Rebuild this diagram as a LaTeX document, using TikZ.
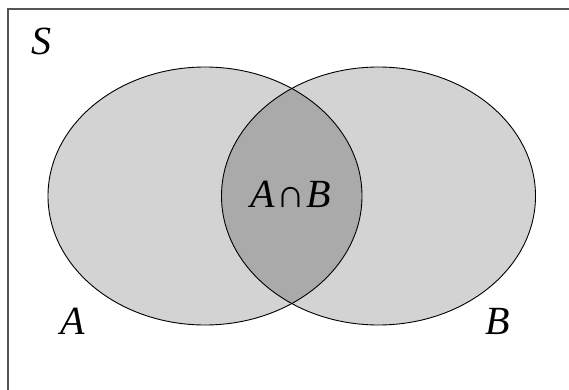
\documentclass[tikz,border=0pt]{standalone}
\usepackage{fontspec}
\setmainfont{Liberation Serif}
\begin{document}
\begin{tikzpicture}[x=1pt,y=-1pt,
  lbl/.style={inner sep=0pt,anchor=base,font=\fontsize{40}{48}\selectfont\itshape},
  setline/.style={draw=black,line width=0.9pt}]
\useasboundingbox (0,0) rectangle (569,390);
\fill[white] (0,0) rectangle (569,390);
% universe frame (open at right and bottom)
\draw[line width=2pt,color={rgb,255:red,85;green,85;blue,85}] (7.5,392) -- (7.5,9.5) -- (571,9.5);
% sets
\fill[color={rgb,255:red,211;green,211;blue,211}] (205,196) ellipse [x radius=157,y radius=129];
\fill[color={rgb,255:red,211;green,211;blue,211}] (378.5,196) ellipse [x radius=157,y radius=129];
\begin{scope}
  \clip (205,196) ellipse [x radius=157,y radius=129];
  \fill[color={rgb,255:red,170;green,170;blue,170}] (378.5,196) ellipse [x radius=157,y radius=129];
\end{scope}
\draw[setline] (205,196) ellipse [x radius=157,y radius=129];
\draw[setline] (378.5,196) ellipse [x radius=157,y radius=129];
% labels (base anchor at glyph baseline)
\node[lbl] (S) at (41,55) {S};
\node[lbl] (A) at (73,334) {A};
\node[lbl] (B) at (498,334) {B};
\node[lbl] (AB) at (290.5,207) {A\hspace{0.05em}{\upshape ∩}\hspace{0.02em}B};
\end{tikzpicture}
\end{document}
